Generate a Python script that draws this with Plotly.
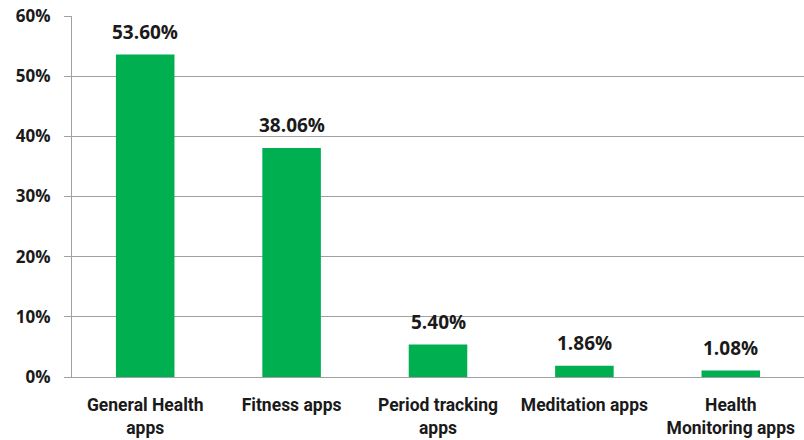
import plotly.graph_objects as go

categories = ["General Health<br>apps", "Fitness apps", "Period tracking<br>apps",
              "Meditation apps", "Health<br>Monitoring apps"]
values = [53.60, 38.06, 5.40, 1.86, 1.08]
labels = ["53.60%", "38.06%", "5.40%", "1.86%", "1.08%"]
yticks = [0, 10, 20, 30, 40, 50, 60]
yticklabels = ["0%", "10%", "20%", "30%", "40%", "50%", "60%"]

FONT = "Open Sans"
XFONT = "Roboto"
TXT = "#1a1a1a"
GRID = "#A0A0A0"

fig = go.Figure(go.Bar(
    x=categories, y=values,
    marker=dict(color="#00B050", line=dict(width=0)),
    width=0.4, cliponaxis=False, hoverinfo="skip",
))

for c, v, t in zip(categories, values, labels):
    fig.add_annotation(x=c, y=v, text="<b>" + t + "</b>", showarrow=False,
                       xanchor="center", yanchor="bottom", yshift=8,
                       font=dict(family=FONT, size=19, color=TXT))

fig.update_layout(
    width=804, height=440,
    margin=dict(l=72, r=0, t=16, b=63, autoexpand=False),
    plot_bgcolor="white", paper_bgcolor="white",
    showlegend=False,
    font=dict(family=FONT, size=17, color=TXT),
)
fig.update_yaxes(
    range=[0, 60], tickvals=yticks,
    ticktext=["<b>" + t + "</b>" for t in yticklabels],
    showgrid=True, gridcolor=GRID, gridwidth=1,
    showline=True, linecolor=GRID, linewidth=1,
    ticks="outside", ticklen=7, tickcolor=GRID,
    tickfont=dict(family=FONT, size=17, color=TXT),
    ticklabelstandoff=10, zeroline=False,
    ticklabeloverflow="allow", automargin=False,
)
fig.update_xaxes(
    tickvals=categories, ticktext=["<b>" + c + "</b>" for c in categories],
    showline=True, linecolor=GRID, linewidth=1,
    ticks="", tickfont=dict(family=XFONT, size=17.5, color=TXT),
    ticklabelstandoff=12, ticklabeloverflow="allow", automargin=False,
)

fig.write_html("out.html", config={"displayModeBar": False},
               post_script="document.body.style.margin='0';")
